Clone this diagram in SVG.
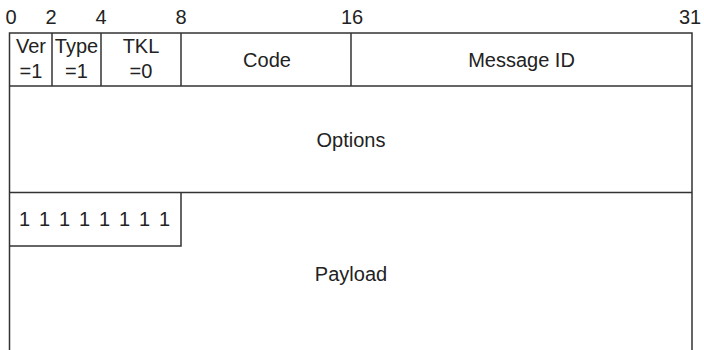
<svg xmlns="http://www.w3.org/2000/svg" width="704" height="350" viewBox="0 0 704 350">
<style>
text{font-family:"Liberation Sans",Arial,sans-serif;fill:#222;font-size:20px;text-anchor:middle}
.num{font-size:20px}
.ln{stroke:#333;stroke-width:1.5;fill:none}
</style>
<rect width="704" height="350" fill="#fff"/>
<g id="bit-ruler">
<text class="num" x="11" y="24">0</text>
<text class="num" x="51" y="24">2</text>
<text class="num" x="101" y="24">4</text>
<text class="num" x="181" y="24">8</text>
<text class="num" x="352" y="24">16</text>
<text class="num" x="690" y="24">31</text>
</g>
<g id="frame">
<path class="ln" d="M9.5 350V33H692V350"/>
</g>
<g id="ver">
<path class="ln" d="M52 33V86"/>
<text x="31" y="53">Ver</text>
<text x="31" y="78">=1</text>
</g>
<g id="type">
<path class="ln" d="M101 33V86"/>
<text x="76.5" y="53">Type</text>
<text x="76.5" y="78">=1</text>
</g>
<g id="tkl">
<path class="ln" d="M181 33V86"/>
<text x="141" y="53">TKL</text>
<text x="141" y="78">=0</text>
</g>
<g id="code">
<path class="ln" d="M351 33V86"/>
<text x="267" y="67">Code</text>
</g>
<g id="message-id">
<text x="521.5" y="67">Message ID</text>
</g>
<g id="options">
<path class="ln" d="M9.5 86H692"/>
<text x="351" y="147">Options</text>
</g>
<g id="payload-marker">
<path class="ln" d="M9.5 192.5H692M181 192.5V246H9.5"/>
<text x="19" y="226" style="text-anchor:start;letter-spacing:1.66px">1 1 1 1 1 1 1 1</text>
</g>
<g id="payload">
<text x="351" y="281">Payload</text>
</g>
</svg>
